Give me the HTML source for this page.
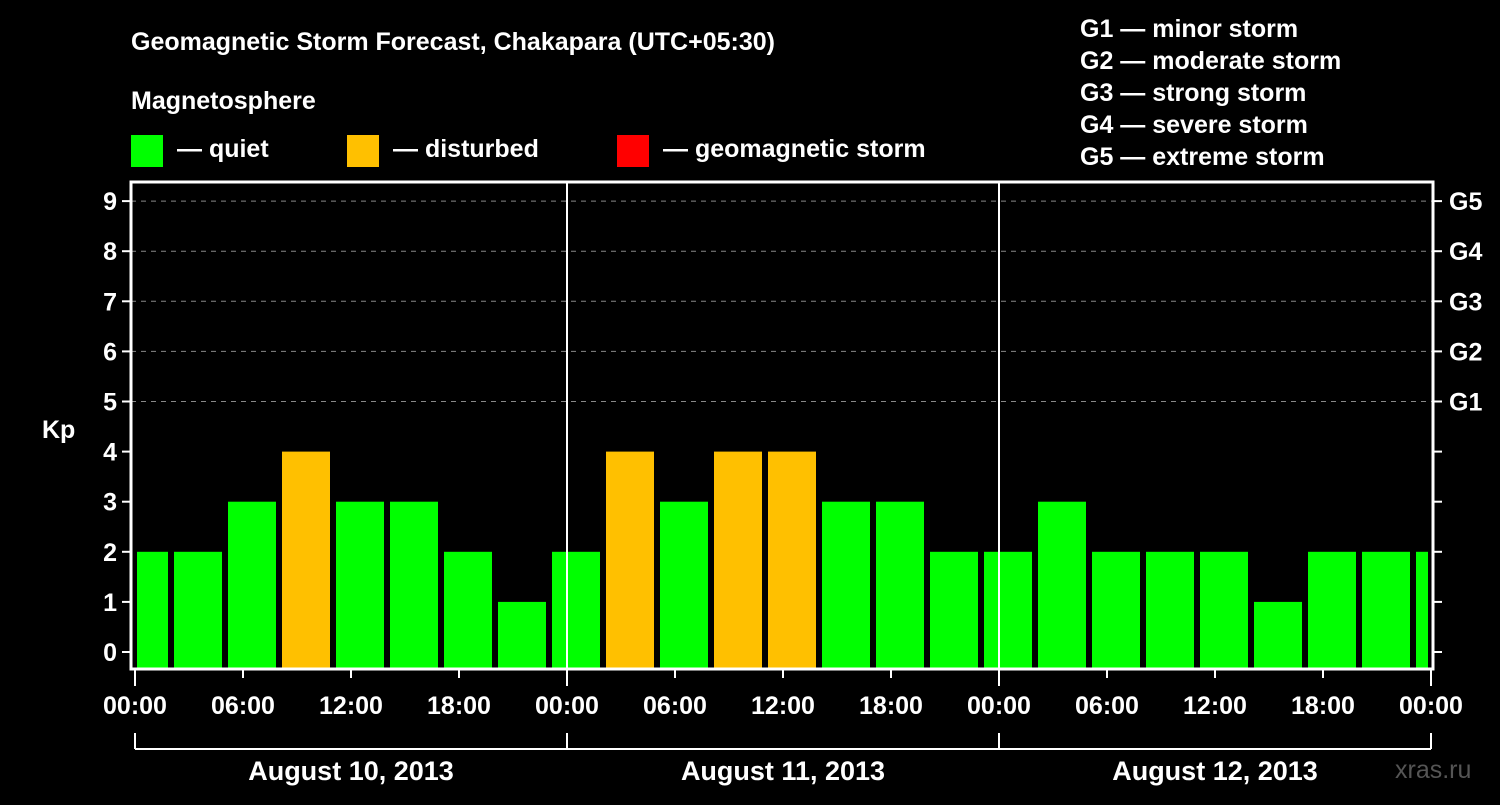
<!DOCTYPE html>
<html><head><meta charset="utf-8"><style>
body{margin:0;background:#000;width:1500px;height:800px;overflow:hidden}
svg text{font-family:"Liberation Sans",sans-serif;font-weight:bold;fill:#fff}
</style></head><body>
<svg id="c" width="1500" height="800">
<text x="131" y="50" font-size="25">Geomagnetic Storm Forecast, Chakapara (UTC+05:30)</text>
<text x="131" y="109" font-size="25">Magnetosphere</text>
<g><rect x="131" y="135" width="32" height="32" fill="#00ff00"/><text x="177" y="157" font-size="25">— quiet</text></g>
<g><rect x="347" y="135" width="32" height="32" fill="#ffc000"/><text x="393" y="157" font-size="25">— disturbed</text></g>
<g><rect x="617" y="135" width="32" height="32" fill="#ff0000"/><text x="663" y="157" font-size="25">— geomagnetic storm</text></g>
<g font-size="25">
<text x="1080" y="37">G1 — minor storm</text><text x="1080" y="69">G2 — moderate storm</text><text x="1080" y="101">G3 — strong storm</text><text x="1080" y="133">G4 — severe storm</text><text x="1080" y="165">G5 — extreme storm</text></g>
<text x="42" y="438" font-size="25">Kp</text>
<text x="1395" y="778" font-size="25" fill="#555" style="fill:#555;font-weight:normal">xras.ru</text>
<g id="grid"></g><g id="bars"></g><g id="axes"></g>
</svg>
<script>
const values=[2,2,3,4,3,3,2,1,2,4,3,4,4,3,3,2,2,3,2,2,2,1,2,2,2];
const yTicks=[0,1,2,3,4,5,6,7,8,9];
const gLabels=["G1","G2","G3","G4","G5"];
const hourLabels=["00:00","06:00","12:00","18:00"];
const dayLabels=["August 10, 2013","August 11, 2013","August 12, 2013"];
const NS="http://www.w3.org/2000/svg";
const L=131,R=1433,T=182,B=669,X0=135,PXH=18;
const x=h=>X0+h*PXH, y=v=>652-v*50.1;
function mk(t,a,p){const e=document.createElementNS(NS,t);for(const k in a)e.setAttribute(k,a[k]);(p||document.getElementById('c')).appendChild(e);return e;}
const grid=document.getElementById('grid'),bars=document.getElementById('bars'),axes=document.getElementById('axes');
yTicks.forEach(v=>{
 if(v>=5){const g=mk('line',{x1:L,x2:R,y1:y(v),y2:y(v),stroke:'#888','stroke-dasharray':'5,5','stroke-width':1},grid);
 
 }
 const t=mk('line',{x1:L-9,x2:L,y1:y(v),y2:y(v),stroke:'#fff','stroke-width':2},axes);
 
 
 const t2=mk('line',{x1:R,x2:R+9,y1:y(v),y2:y(v),stroke:'#fff','stroke-width':2},axes);
 
 
 const l=mk('text',{x:L-14,y:y(v)+9,'font-size':25,'text-anchor':'end'},axes);l.textContent=v;
 
 
});
gLabels.forEach((g,i)=>{const l=mk('text',{x:R+16,y:y(5+i)+9,'font-size':25},axes);l.textContent=g;
 
 });
values.forEach((v,i)=>{
 let x1=x(2+3*(i-1))+3,x2=x1+48;
 x1=Math.max(x1,x(0)+2);x2=Math.min(x2,x(72)-3);
 const r=mk('rect',{x:x1,y:y(v),width:x2-x1,height:B-y(v),fill:v>=5?'#ff0000':v>=4?'#ffc000':'#00ff00'},bars);
 
 
});
[1,2].forEach(d=>{const l=mk('line',{x1:x(24*d),x2:x(24*d),y1:T,y2:B,stroke:'#fff','stroke-width':2},axes);
 
 });
const f=mk('rect',{x:L,y:T,width:R-L,height:B-T,fill:'none',stroke:'#fff','stroke-width':3},axes);


for(let h=0;h<=72;h+=6){
 const big=h%24==0;
 const t=mk('line',{x1:x(h),x2:x(h),y1:B,y2:B+(big?17:9),stroke:'#fff','stroke-width':2},axes);
 
 
 const l=mk('text',{x:x(h),y:714,'font-size':25,'text-anchor':'middle'},axes);l.textContent=hourLabels[(h/6)%4];
 
 
}
const br=mk('line',{x1:x(0),x2:x(72),y1:749,y2:749,stroke:'#fff','stroke-width':2},axes);


for(let d=0;d<=3;d++){const t=mk('line',{x1:x(24*d),x2:x(24*d),y1:733,y2:749,stroke:'#fff','stroke-width':2},axes);
 
 }
dayLabels.forEach((s,i)=>{const l=mk('text',{x:x(24*i+12),y:780,'font-size':27,'text-anchor':'middle'},axes);l.textContent=s;
 
 });
</script>
</body></html>
